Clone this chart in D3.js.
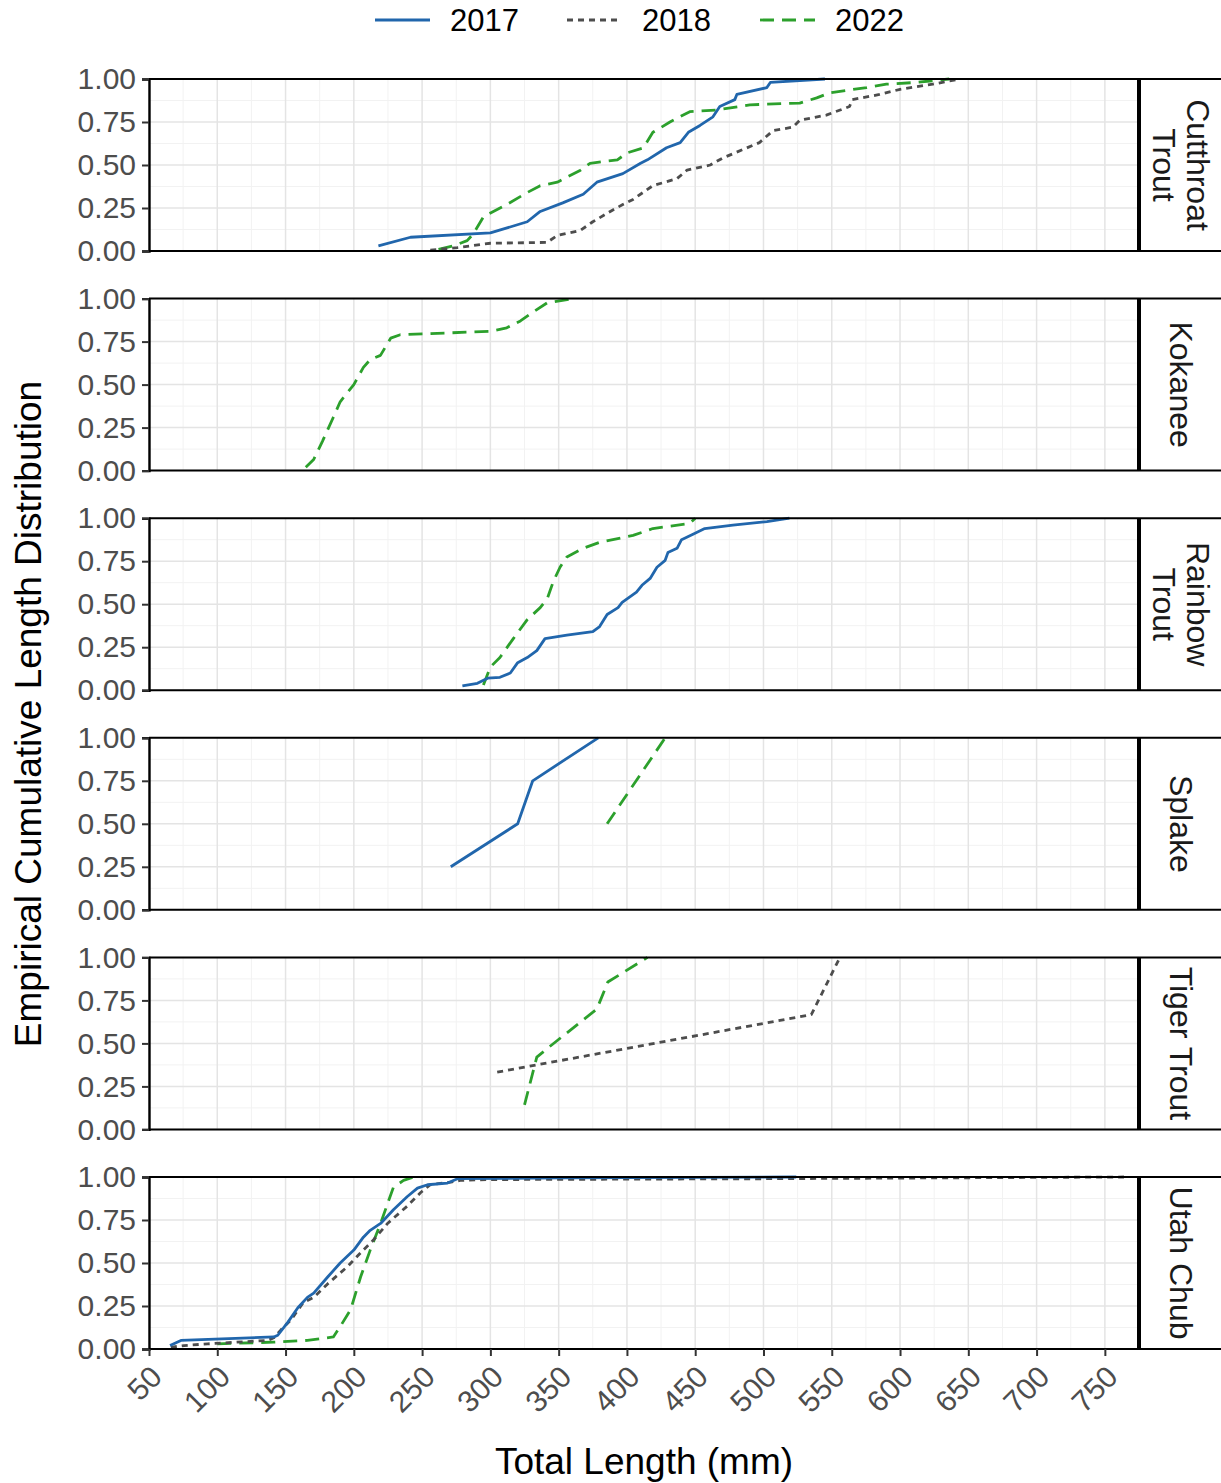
<!DOCTYPE html>
<html>
<head>
    <script src="https://cdn.jsdelivr.net/npm/d3@7"></script>
    <style>
        body { margin: 0; background: #fff; }
        text { font-family: "Liberation Sans", Arial, sans-serif; }
    </style>
</head>
<body>
<svg id="chart" width="1221" height="1483"></svg>
<script>
    // ---- data: [total length mm, ecdf] ----
    var species = ["Cutthroat Trout", "Kokanee", "Rainbow Trout", "Splake", "Tiger Trout", "Utah Chub"];
    var stripLabels = [["Cutthroat", "Trout"], ["Kokanee"], ["Rainbow", "Trout"], ["Splake"], ["Tiger Trout"], ["Utah Chub"]];
    var years = ["2017", "2018", "2022"];
    var xTicks = [50, 100, 150, 200, 250, 300, 350, 400, 450, 500, 550, 600, 650, 700, 750];
    var yTicks = [0, 0.25, 0.5, 0.75, 1];

    var cutthroat2017 = [[218,0.03],[241.5,0.08],[300,0.105],[327,0.17],[336.5,0.23],[353,0.28],[368,0.33],[378,0.40],[397,0.45],[410,0.51],[415,0.53],[429,0.60],[439,0.63],[445,0.69],[453.5,0.73],[463,0.78],[468,0.84],[479,0.88],[480.5,0.91],[502.5,0.95],[505,0.98],[545,1.0]];
    var cutthroat2018 = [[256,0.005],[276,0.02],[300,0.045],[341.5,0.05],[349,0.09],[366,0.12],[375,0.17],[390,0.24],[397,0.27],[404.5,0.30],[419,0.38],[436.5,0.42],[444,0.47],[461,0.50],[470,0.54],[497,0.63],[507,0.70],[521.5,0.72],[526.5,0.76],[546,0.79],[563,0.84],[565,0.88],[585,0.91],[600,0.94],[624,0.97],[643.5,1.0]];
    var cutthroat2022 = [[262,0.01],[273,0.03],[283,0.06],[287.5,0.10],[295,0.20],[312,0.27],[327,0.34],[336.5,0.38],[349,0.40],[366,0.47],[373,0.51],[393,0.53],[400,0.57],[412,0.60],[419,0.69],[431.5,0.75],[446,0.81],[466,0.82],[490,0.85],[526.5,0.86],[539,0.89],[548.5,0.92],[575.5,0.95],[590,0.97],[612,0.98],[636,1.0]];
    var kokanee2022 = [[164.8,0.02],[170.6,0.065],[177,0.17],[185,0.31],[190,0.40],[200,0.50],[207,0.60],[212,0.645],[219.5,0.67],[227,0.77],[234,0.79],[300,0.81],[312,0.83],[322,0.87],[331,0.92],[341.5,0.975],[360.7,1.0]];
    var rainbow2017 = [[279.5,0.025],[290.5,0.04],[298,0.07],[307,0.075],[314.6,0.10],[320,0.16],[327,0.19],[334,0.23],[340,0.30],[356,0.32],[375,0.34],[380,0.37],[385.5,0.44],[393.5,0.48],[396.5,0.51],[407,0.57],[411,0.61],[417,0.65],[422,0.715],[428,0.755],[430,0.80],[436.7,0.825],[440,0.875],[448,0.905],[457,0.94],[477.6,0.96],[502.5,0.98],[519,1.0]];
    var rainbow2022 = [[294.9,0.03],[300,0.135],[307,0.19],[316.8,0.30],[327,0.41],[336.5,0.48],[341.8,0.535],[346,0.63],[351,0.715],[356,0.775],[368,0.825],[380,0.86],[404.5,0.90],[419,0.94],[446,0.97],[450,1.0]];
    var splake2017 = [[271,0.25],[320,0.5],[331,0.75],[379,1.0]];
    var splake2022 = [[385.5,0.5],[428,1.0]];
    var tiger2018 = [[305,0.333],[535,0.667],[556,1.0]];
    var tiger2022 = [[325,0.143],[334,0.42],[341.6,0.47],[378,0.70],[386,0.857],[415,1.0]];
    var utah2017 = [[65.4,0.02],[73.4,0.05],[141.4,0.07],[144.3,0.08],[151.6,0.155],[159,0.24],[166,0.30],[170.6,0.325],[181,0.42],[190,0.50],[200,0.575],[207,0.65],[212,0.69],[219.6,0.73],[229,0.81],[239,0.885],[246.6,0.935],[254,0.955],[268.6,0.965],[276,0.99],[350,0.995],[524,1.0]];
    var utah2018 = [[66,0.01],[75.6,0.02],[93,0.03],[137,0.05],[141.4,0.065],[146.5,0.11],[154,0.17],[163,0.27],[170.6,0.30],[181,0.38],[195.5,0.48],[205,0.56],[214.5,0.635],[224.7,0.73],[239,0.83],[249,0.91],[256,0.955],[271,0.97],[278,0.98],[298,0.985],[500,0.99],[764,1.0]];
    var utah2022 = [[100,0.03],[141.4,0.04],[166,0.05],[185,0.07],[190,0.13],[197.7,0.23],[205,0.42],[212,0.575],[219.6,0.73],[224.7,0.845],[229,0.94],[236.4,0.98],[243.7,1.0]];

    var seriesBySpecies = [
        {"2017": cutthroat2017, "2018": cutthroat2018, "2022": cutthroat2022},
        {"2022": kokanee2022},
        {"2017": rainbow2017, "2022": rainbow2022},
        {"2017": splake2017, "2022": splake2022},
        {"2018": tiger2018, "2022": tiger2022},
        {"2017": utah2017, "2018": utah2018, "2022": utah2022}
    ];

    var colors = {"2017": "#2166ac", "2018": "#4d4d4d", "2022": "#2ca02c"};
    var dashes = {"2017": null, "2018": "6,5", "2022": "14,8"};

    var svg = d3.select("#chart");
    svg.append("rect").attr("width", 1221).attr("height", 1483).attr("fill", "#fff");

    var left = 149, right = 1139, stripRight = 1221,
        panelTop0 = 79, panelStep = 219.6, panelH = 172;

    var x = d3.scaleLinear().domain([50, 775]).range([left, right]);
    var minorX = d3.range(75, 775, 50);
    var minorY = [0.125, 0.375, 0.625, 0.875];

    var line = d3.line()
        .x(function(d) { return x(d[0]); })
        .y(function(d) { return d.y; });

    species.forEach(function(sp, i) {
        var top = panelTop0 + i * panelStep;
        var y = d3.scaleLinear().domain([0, 1]).range([top + panelH, top]);
        var g = svg.append("g");

        // grid
        g.selectAll(".minx").data(minorX).enter().append("line")
            .attr("x1", function(d) { return x(d); }).attr("x2", function(d) { return x(d); })
            .attr("y1", top).attr("y2", top + panelH)
            .attr("stroke", "#f2f2f2").attr("stroke-width", 1);
        g.selectAll(".miny").data(minorY).enter().append("line")
            .attr("x1", left).attr("x2", right)
            .attr("y1", function(d) { return y(d); }).attr("y2", function(d) { return y(d); })
            .attr("stroke", "#f2f2f2").attr("stroke-width", 1);
        g.selectAll(".majx").data(xTicks).enter().append("line")
            .attr("x1", function(d) { return x(d); }).attr("x2", function(d) { return x(d); })
            .attr("y1", top).attr("y2", top + panelH)
            .attr("stroke", "#e4e4e4").attr("stroke-width", 1.5);
        g.selectAll(".majy").data(yTicks).enter().append("line")
            .attr("x1", left).attr("x2", right)
            .attr("y1", function(d) { return y(d); }).attr("y2", function(d) { return y(d); })
            .attr("stroke", "#e4e4e4").attr("stroke-width", 1.5);

        // series
        var ser = seriesBySpecies[i];
        ["2022", "2018", "2017"].forEach(function(yr) {
            if (!ser[yr]) return;
            var pts = ser[yr].map(function(p) { var q = [p[0], p[1]]; q.y = y(p[1]); return q; });
            g.append("path")
                .attr("d", line(pts))
                .attr("fill", "none")
                .attr("stroke", colors[yr])
                .attr("stroke-width", 2.8)
                .attr("stroke-dasharray", dashes[yr])
                .attr("stroke-linejoin", "round");
        });

        // frame lines
        g.append("line").attr("x1", left).attr("x2", stripRight).attr("y1", top).attr("y2", top)
            .attr("stroke", "#000").attr("stroke-width", 2);
        g.append("line").attr("x1", left).attr("x2", stripRight).attr("y1", top + panelH).attr("y2", top + panelH)
            .attr("stroke", "#000").attr("stroke-width", 2);
        g.append("line").attr("x1", right).attr("x2", right).attr("y1", top).attr("y2", top + panelH)
            .attr("stroke", "#000").attr("stroke-width", 4);

        // y axis
        var ya = g.append("g").attr("transform", "translate(" + left + ",0)")
            .call(d3.axisLeft(y).tickValues(yTicks).tickFormat(d3.format(".2f")).tickSize(7).tickPadding(6));
        ya.select(".domain").attr("stroke", "#000").attr("stroke-width", 2.4);
        ya.selectAll(".tick line").attr("stroke", "#333").attr("stroke-width", 2);
        ya.selectAll(".tick text").attr("fill", "#4d4d4d").attr("font-size", 30)
            .style("font-family", "'Liberation Sans', Arial, sans-serif");

        // strip label
        var lab = stripLabels[i];
        var cx = (right + stripRight) / 2 + 1 + (lab.length - 1) * 17;
        var st = g.append("text")
            .attr("transform", "translate(" + cx + "," + (top + panelH / 2) + ") rotate(90)")
            .attr("text-anchor", "middle")
            .attr("font-size", 32)
            .attr("fill", "#1a1a1a");
        lab.forEach(function(t, k) {
            st.append("tspan").attr("x", 0).attr("dy", k === 0 ? "0.35em" : "1.06em").text(t);
        });

        // x axis on the last panel
        if (i === species.length - 1) {
            var xa = g.append("g").attr("transform", "translate(0," + (top + panelH) + ")")
                .call(d3.axisBottom(x).tickValues(xTicks).tickSize(7).tickFormat(d3.format("d")));
            xa.select(".domain").remove();
            xa.selectAll(".tick line").attr("stroke", "#333").attr("stroke-width", 2);
            xa.selectAll(".tick text")
                .attr("fill", "#4d4d4d").attr("font-size", 30)
                .style("font-family", "'Liberation Sans', Arial, sans-serif")
                .attr("text-anchor", "end")
                .attr("x", -11).attr("y", 8).attr("dy", "0.77em")
                .attr("transform", "rotate(-45)");
        }
    });

    // axis titles
    svg.append("text")
        .attr("transform", "translate(41,714) rotate(-90)")
        .attr("text-anchor", "middle")
        .attr("font-size", 37)
        .attr("fill", "#000")
        .text("Empirical Cumulative Length Distribution");
    svg.append("text")
        .attr("x", 644).attr("y", 1474)
        .attr("text-anchor", "middle")
        .attr("font-size", 37)
        .attr("fill", "#000")
        .text("Total Length (mm)");

    // legend
    var legendX = [375, 567, 760];
    var lg = svg.append("g");
    years.forEach(function(yr, k) {
        lg.append("line")
            .attr("x1", legendX[k]).attr("x2", legendX[k] + 55)
            .attr("y1", 20).attr("y2", 20)
            .attr("stroke", colors[yr]).attr("stroke-width", 2.8)
            .attr("stroke-dasharray", dashes[yr]);
        lg.append("text")
            .attr("x", legendX[k] + 75).attr("y", 20).attr("dy", "0.35em")
            .attr("font-size", 31).attr("fill", "#000")
            .text(yr);
    });
</script>
</body>
</html>
